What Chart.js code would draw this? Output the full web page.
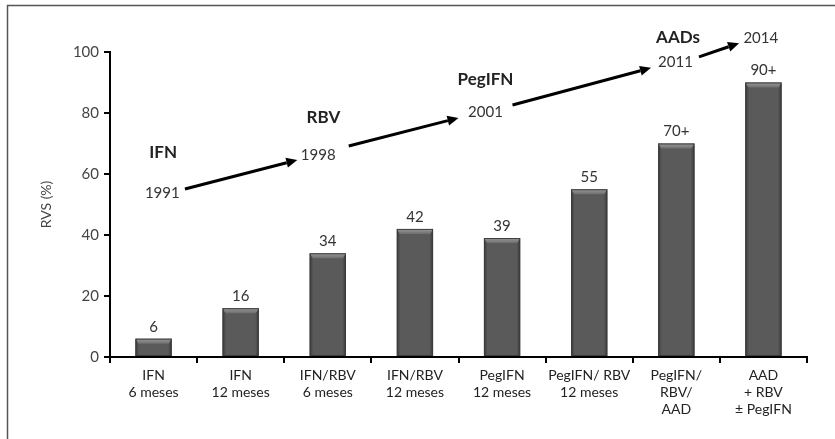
<!DOCTYPE html>
<html>
<head>
<meta charset="utf-8">
<script src="https://cdn.jsdelivr.net/npm/chart.js@4/dist/chart.umd.min.js"></script>
<style>
  html, body { margin: 0; padding: 0; background: #fff; }
  #wrap { width: 835px; height: 439px; }
</style>
</head>
<body>
<div id="wrap"><canvas id="myChart"></canvas></div>
<script>
const categories = [
    ['IFN', '6 meses'],
    ['IFN', '12 meses'],
    ['IFN/RBV', '6 meses'],
    ['IFN/RBV', '12 meses'],
    ['PegIFN', '12 meses'],
    ['PegIFN/ RBV', '12 meses'],
    ['PegIFN/', 'RBV/', 'AAD'],
    ['AAD', '+ RBV', '± PegIFN']
]
const rvsValues = [6, 16, 34, 42, 39, 55, 70, 90]
const valueLabels = ['6', '16', '34', '42', '39', '55', '70+', '90+']
const yTicks = [0, 20, 40, 60, 80, 100]

// timeline annotations, in data units (category index, RVS %)
const drugNames = ['IFN', 'RBV', 'PegIFN', 'AADs']
const drugPos = [[0.11, 66.9], [1.95, 78.4], [3.81, 91.1], [6.02, 104.6]]
const years = ['1991', '1998', '2001', '2011', '2014']
const yearPos = [[0.10, 53.8], [1.89, 66.2], [3.81, 80.3], [5.99, 96.7], [6.97, 104.6]]
const arrows = [
    [0.36, 55.1, 1.65, 64.6],
    [2.24, 69.2, 3.50, 78.4],
    [4.12, 82.6, 5.71, 94.8],
    [6.26, 98.4, 6.72, 102.9]
]

const FONT = 'Lato, "Open Sans", sans-serif'

const framePlugin = {
    id: 'frame',
    beforeDraw(chart) {
        const c = chart.ctx
        c.save()
        c.fillStyle = '#fff'
        c.fillRect(0, 0, chart.width, chart.height)
        c.strokeStyle = '#555'
        c.lineWidth = 1.5
        c.beginPath()
        c.moveTo(7.5, chart.height + 2)
        c.lineTo(7.5, 5.5)
        c.lineTo(chart.width + 2, 5.5)
        c.stroke()
        c.restore()
    }
}

const bevelPlugin = {
    id: 'bevel',
    afterDatasetsDraw(chart) {
        const c = chart.ctx
        const meta = chart.getDatasetMeta(0)
        c.save()
        meta.data.forEach((bar, i) => {
            const w = bar.width
            const left = bar.x - w / 2
            const top = bar.y
            const h = bar.base - bar.y
            // side shading
            let g = c.createLinearGradient(left, 0, left + w, 0)
            g.addColorStop(0, 'rgba(30,30,30,0.55)')
            g.addColorStop(0.1, 'rgba(30,30,30,0)')
            g.addColorStop(0.9, 'rgba(30,30,30,0)')
            g.addColorStop(1, 'rgba(30,30,30,0.55)')
            c.fillStyle = g
            c.fillRect(left, top, w, h)
            // light top strip
            const sh = Math.min(5, h)
            g = c.createLinearGradient(0, top, 0, top + sh)
            g.addColorStop(0, '#9a9a9a')
            g.addColorStop(1, '#6e6e6e')
            c.fillStyle = g
            c.beginPath()
            c.moveTo(left, top)
            c.lineTo(left + w, top)
            c.lineTo(left + w - 3, top + sh)
            c.lineTo(left + 3, top + sh)
            c.closePath()
            c.fill()
            c.strokeStyle = '#3c3c3c'
            c.lineWidth = 1
            c.strokeRect(left + 0.5, top + 0.5, w - 1, h - 1)
            // value label
            c.fillStyle = '#333'
            c.font = '15px ' + FONT
            c.textAlign = 'center'
            c.textBaseline = 'middle'
            c.fillText(valueLabels[i], bar.x, top - 12)
        })
        c.restore()
    }
}

const timelinePlugin = {
    id: 'timeline',
    afterDraw(chart) {
        const c = chart.ctx
        const xs = chart.scales.x
        const ys = chart.scales.y
        const px = v => xs.getPixelForValue(0) + v * (xs.getPixelForValue(1) - xs.getPixelForValue(0))
        const py = v => ys.getPixelForValue(v)
        c.save()
        c.textAlign = 'center'
        c.textBaseline = 'middle'
        c.fillStyle = '#222'
        c.font = 'bold 17px ' + FONT
        drugNames.forEach((t, i) => c.fillText(t, px(drugPos[i][0]), py(drugPos[i][1])))
        c.fillStyle = '#333'
        c.font = '15px ' + FONT
        years.forEach((t, i) => c.fillText(t, px(yearPos[i][0]), py(yearPos[i][1])))
        c.strokeStyle = '#000'
        c.fillStyle = '#000'
        c.lineWidth = 3
        arrows.forEach(a => {
            const x1 = px(a[0]), y1 = py(a[1]), x2 = px(a[2]), y2 = py(a[3])
            const ang = Math.atan2(y2 - y1, x2 - x1)
            const hl = 11
            const bx = x2 - hl * Math.cos(ang), by = y2 - hl * Math.sin(ang)
            c.beginPath()
            c.moveTo(x1, y1)
            c.lineTo(bx, by)
            c.stroke()
            c.beginPath()
            c.moveTo(x2, y2)
            c.lineTo(bx + 5 * Math.sin(ang), by - 5 * Math.cos(ang))
            c.lineTo(bx - 5 * Math.sin(ang), by + 5 * Math.cos(ang))
            c.closePath()
            c.fill()
        })
        c.restore()
    }
}

const chartData = {
    type: 'bar',
    data: {
        labels: categories,
        datasets: [{
            label: 'RVS (%)',
            data: rvsValues,
            backgroundColor: '#5a5a5a',
            borderWidth: 0,
            categoryPercentage: 0.8,
            barPercentage: 0.52
        }]
    },
    options: {
        responsive: true,
        maintainAspectRatio: false,
        animation: false,
        devicePixelRatio: 1,
        layout: { padding: { top: 52, right: 28, left: 0, bottom: 0 } },
        plugins: {
            legend: { display: false },
            tooltip: { enabled: false }
        },
        scales: {
            x: {
                grid: { display: true, drawOnChartArea: false, offset: true, tickLength: 6, color: '#000', lineWidth: 2 },
                border: { color: '#000', width: 2 },
                ticks: { color: '#222', font: { family: FONT, size: 14 }, padding: 4, maxRotation: 0, autoSkip: false },
                afterFit(scale) { scale.height = 82 }
            },
            y: {
                min: 0,
                max: 100,
                afterBuildTicks(scale) { scale.ticks = yTicks.map(v => ({ value: v })) },
                grid: { drawOnChartArea: false, tickLength: 6, color: '#000', lineWidth: 2 },
                border: { color: '#000', width: 2 },
                ticks: { color: '#444', font: { family: FONT, size: 15 }, padding: 5 },
                title: { display: true, text: 'RVS (%)', color: '#444', font: { family: FONT, size: 14 }, padding: { top: 38 } },
                afterFit(scale) { scale.width = 110 }
            }
        }
    },
    plugins: [framePlugin, bevelPlugin, timelinePlugin]
}

const myChart = new Chart(document.getElementById('myChart'), chartData)
</script>
</body>
</html>
